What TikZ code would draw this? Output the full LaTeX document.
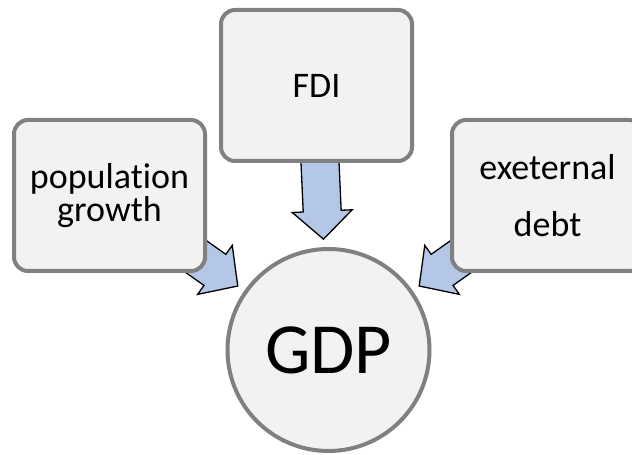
\documentclass[tikz,border=0pt]{standalone}
\usepackage{fontspec}
\setmainfont[Ligatures={NoCommon}]{Carlito}
\usepackage{xcolor}
\usetikzlibrary{calc,backgrounds}

\definecolor{boxfill}{HTML}{F2F2F2}
\definecolor{boxline}{HTML}{808080}
\definecolor{arrowfill}{HTML}{B4C7E7}

% block arrow from a box towards GDP, tip just outside the circle
\newcommand{\gdparrow}[2]{%
  \filldraw[feed] let \p1=($(#1.center)-(#2.center)$), \n1={atan2(\y1,\x1)},
    \p2=($(#2.center)+(\n1:111pt)$), \p3=($(\p2)+(\n1:28pt)$) in
    (\p2) -- ($(\p3)+(\n1+90:30pt)$) -- ($(\p3)+(\n1+90:19pt)$)
    -- ($(\p3)+(\n1+90:19pt)+(\n1:70pt)$) -- ($(\p3)+(\n1-90:19pt)+(\n1:70pt)$)
    -- ($(\p3)+(\n1-90:19pt)$) -- ($(\p3)+(\n1-90:30pt)$) -- cycle;}

\begin{document}
\begin{tikzpicture}[x=1pt, y=1pt,
  factor/.style={draw=boxline, fill=boxfill, line width=4pt, rounded corners=14pt,
    minimum width=191pt, minimum height=151pt, align=center},
  feed/.style={draw=black, fill=arrowfill, line width=1.3pt, line join=miter}]
\useasboundingbox (0,0) rectangle (632,455);

\node[factor, font={\fontsize{36}{40}\selectfont}] (fdi) at (316.5,369.5) {FDI};
\node[factor, font={\fontsize{36}{33}\selectfont}] (pop) at (109.5,259.5) {population\\ growth};
\node[factor, font={\fontsize{36}{57}\selectfont}] (debt) at (547.5,259.5) {exeternal\\ debt};
\node[draw=boxline, fill=boxfill, line width=4pt, circle, minimum size=202pt,
  font={\fontsize{72}{80}\selectfont}] (gdp) at (328.5,105) {GDP};

\begin{scope}[on background layer]
\gdparrow{pop}{gdp}
\gdparrow{fdi}{gdp}
\gdparrow{debt}{gdp}
\end{scope}
\end{tikzpicture}
\end{document}
